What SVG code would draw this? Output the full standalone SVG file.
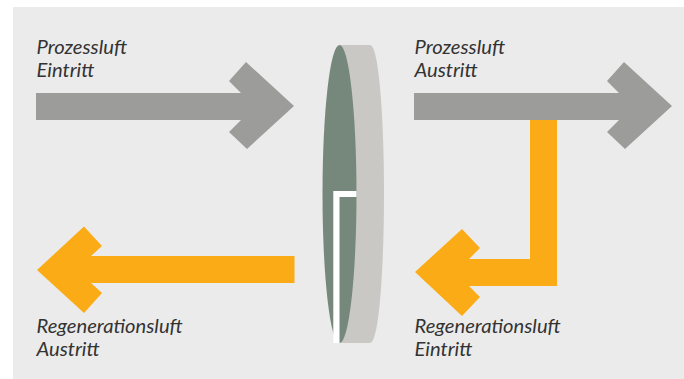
<svg xmlns="http://www.w3.org/2000/svg" width="684" height="379" viewBox="0 0 684 379">
<style>
text{font-family:Lato,"Open Sans",sans-serif;font-style:italic;font-size:20.200px;fill:#333}
.g{fill:#9c9c9a}
.o{fill:#fbab16}
</style>
<rect x="13" y="7" width="671" height="372" fill="#ebebeb"/>
<g id="wheel">
<path d="M339.500 45H370C379 45 384 120 384 194S379 343 370 343H339.500Z" fill="#c9c8c4"/>
<ellipse cx="339.500" cy="194" rx="17" ry="149" fill="#76887c"/>
<path d="M333.300 343V191H356.500V197H339.500V343Z" fill="#fff"/>
</g>
<g id="connectors">
<path id="prozess-eintritt" class="g" d="M36 93H241L229 81L246 62L294 106L247 149L229 132L241 120H36Z"/>
<path id="prozess-austritt" class="g" d="M414 93H619L607 81L624 62L672 106L625 149L607 132L619 120H414Z"/>
<path id="regen-austritt" class="o" d="M294.500 256H91L102 246L84 226.500L37 270L84 313L102 293L91 283H294.500Z"/>
<path id="regen-eintritt" class="o" d="M530 120V259H469L480 248L462 229L415 272L462 316L480 297L469 286H557V120Z"/>
</g>
<g id="label-prozess-eintritt"><text x="36.500" y="54">Prozessluft</text><text x="36.500" y="77">Eintritt</text></g>
<g id="label-prozess-austritt"><text x="414.500" y="54">Prozessluft</text><text x="414.500" y="77">Austritt</text></g>
<g id="label-regen-austritt"><text x="36.500" y="333">Regenerationsluft</text><text x="36.500" y="356">Austritt</text></g>
<g id="label-regen-eintritt"><text x="414.500" y="333">Regenerationsluft</text><text x="414.500" y="356">Eintritt</text></g>
</svg>
